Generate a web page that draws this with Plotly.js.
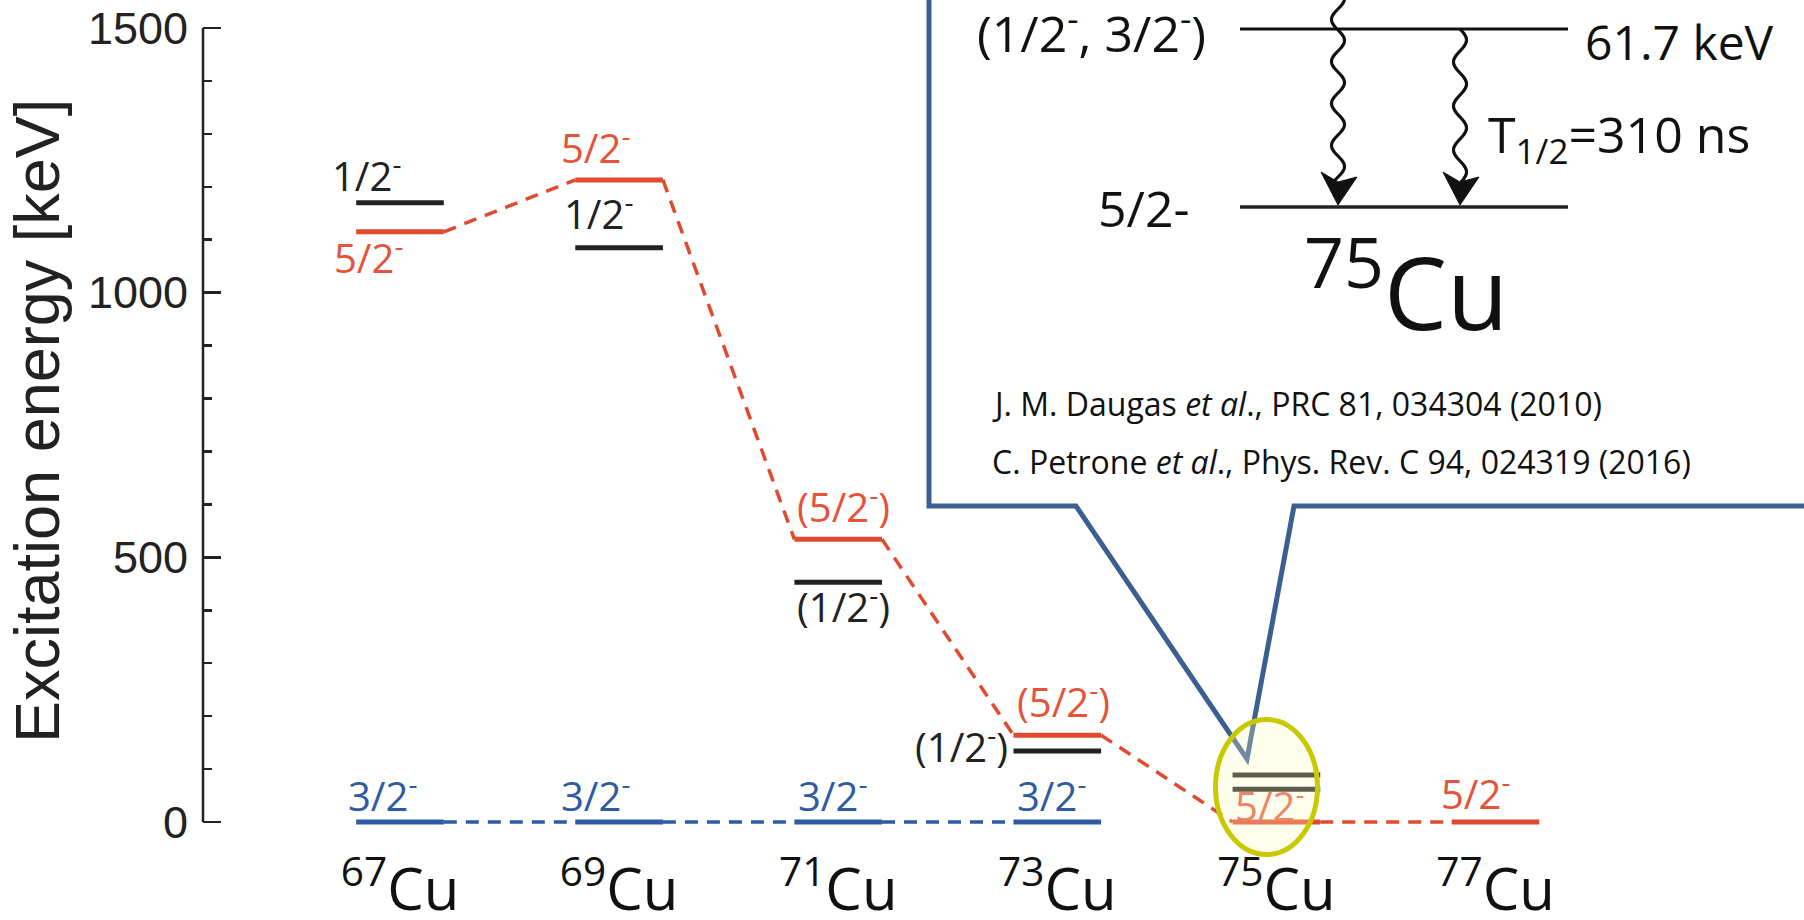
<!DOCTYPE html>
<html>
<head>
<meta charset="utf-8">
<script src="https://cdn.plot.ly/plotly-3.0.1.min.js"></script>
<style>
  html, body { margin: 0; padding: 0; background: #fff; }
  #chart { width: 1804px; height: 920px; }
</style>
</head>
<body>
<div id="chart"></div>
<script>
// ---- data: Cu isotope low-lying levels (keV) ----
const massNumbers = ['67', '69', '71', '73', '75', '77'];
const level52 = [1115, 1213, 534, 164, 0, 0];            // 5/2- (red)
const level12 = [1170, 1085, 453, 134, 89, null];        // 1/2- (black)
const level75low = [null, null, null, null, 61.7, null]; // lower member of the 75Cu doublet, black
const level32 = [0, 0, 0, 0, null, null];                // 3/2- (blue)
const spin52 = ['5/2-', '5/2-', '(5/2-)', '(5/2-)', '5/2-', '5/2-'];
const spin12 = ['1/2-', '1/2-', '(1/2-)', '(1/2-)', null, null];
const spin32 = ['3/2-', '3/2-', '3/2-', '3/2-', null, null];
const yTicks = [0, 500, 1000, 1500];

// ---- label placement (pixel offsets from level centre: [dx, baseline above line]) ----
const off52 = [[-68, -42], [-60, 16], [-43, 16], [-42, 17], [-43, 0], [-57, 12]];
const off12 = [[-70, 10], [-57, 17], [-43, -41], [-47, -12], null, null];
const off32 = [[-54, 10], [-60, 10], [-42, 10], [-42, 10], null, null];

// ---- colours ----
const RED = '#e24a2f', RED_TXT = '#e4533a', BLUE = '#2f5ba3', BLACK = '#222222';
const CALLOUT = '#3c5f91';

// ---- geometry ----
const W = 1804, H = 920;
const M = { l: 203, r: 0, t: 12, b: 70 };
const plotW = W - M.l - M.r, plotH = H - M.t - M.b;
const xCentre0 = 400, xStep = 219.1;   // pixel column of first isotope, spacing
const yZero = 822, yTop = 28;          // pixel rows of 0 and 1500 keV
const k = (yZero - yTop) / 1500;
const xRange = [(M.l - xCentre0) / xStep, (W - M.r - xCentre0) / xStep];
const yRange = [-(H - M.b - yZero) / k, (yZero - M.t) / k];
const HALF = 0.2;                      // half width of a level bar (x units)

const px = p => (p - M.l) / plotW;
const py = p => (H - M.b - p) / plotH;

function bars(vals) {
  const x = [], y = [];
  vals.forEach((v, i) => { if (v !== null) { x.push(i - HALF, i + HALF, null); y.push(v, v, null); } });
  return { x, y };
}
function links(vals) {
  const x = [], y = [];
  for (let i = 0; i < vals.length - 1; i++) {
    if (vals[i] !== null && vals[i + 1] !== null) {
      x.push(i + HALF, i + 1 - HALF, null); y.push(vals[i], vals[i + 1], null);
    }
  }
  return { x, y };
}
const fmt = s => s.replace('-', '<sup>-</sup>');

const dash = { width: 3.5, dash: '13px,9px' };
const traces = [
  Object.assign({ type: 'scatter', mode: 'lines', line: Object.assign({ color: BLUE }, dash), hoverinfo: 'skip' }, links(level32)),
  Object.assign({ type: 'scatter', mode: 'lines', line: Object.assign({ color: RED }, dash), hoverinfo: 'skip' }, links(level52)),
  Object.assign({ type: 'scatter', mode: 'lines', line: { color: BLUE, width: 5 }, hoverinfo: 'skip' }, bars(level32)),
  Object.assign({ type: 'scatter', mode: 'lines', line: { color: BLACK, width: 5 }, hoverinfo: 'skip' }, bars(level12)),
  Object.assign({ type: 'scatter', mode: 'lines', line: { color: BLACK, width: 5 }, hoverinfo: 'skip' }, bars(level75low)),
  Object.assign({ type: 'scatter', mode: 'lines', line: { color: RED, width: 5 }, hoverinfo: 'skip' }, bars(level52))
];

// ---- spin labels ----
const SPIN_FONT = 40, DESC = 0.293 * SPIN_FONT + 1;
const annotations = [];
function spinLabels(vals, texts, offs, color) {
  vals.forEach((v, i) => {
    if (v === null || !texts[i] || !offs[i]) return;
    const [dx, dy] = offs[i];
    const rightSide = (texts === spin12 && i === 3);
    annotations.push({
      x: i, y: v, xref: 'x', yref: 'y', text: fmt(texts[i]), showarrow: false,
      xanchor: rightSide ? 'right' : 'left', yanchor: 'bottom',
      xshift: dx, yshift: dy - DESC,
      font: { family: 'Open Sans', size: SPIN_FONT, color: (texts === spin52 && i === 4) ? '#ec8467' : color }
    });
  });
}
spinLabels(level52, spin52, off52, RED_TXT);
spinLabels(level12, spin12, off12, BLACK);
spinLabels(level32, spin32, off32, BLUE);

// ---- axis title ----
annotations.push({
  x: px(37), y: py(421), xref: 'paper', yref: 'paper', text: 'Excitation energy [keV]',
  textangle: -90, showarrow: false, xanchor: 'center', yanchor: 'middle',
  font: { family: 'Liberation Sans, Arial, sans-serif', size: 63, color: BLACK }
});

// ---- inset: 75Cu isomer scheme ----
const inset = (x, y, text, size, xa, ya, extra) => Object.assign({
  x: px(x), y: py(y), xref: 'paper', yref: 'paper', text, showarrow: false,
  xanchor: xa, yanchor: ya, font: { family: 'Open Sans', size, color: '#111' }
}, extra || {});
annotations.push(inset(1208, 31, '(1/2<sup>-</sup>, 3/2<sup>-</sup>)', 50, 'right', 'middle'));
annotations.push(inset(1583, 42, '61.7 keV', 48, 'left', 'middle'));
annotations.push(inset(1192, 208, '5/2-', 50, 'right', 'middle'));
annotations.push(inset(1486, 137, 'T<sub>1/2</sub>=310 ns', 50, 'left', 'middle'));
annotations.push(inset(1302, 286, '<sup>75</sup>Cu', 100, 'left', 'middle'));
annotations.push(inset(990, 403, 'J. M. Daugas <i>et al</i>., PRC 81, 034304 (2010)', 32, 'left', 'middle'));
annotations.push(inset(990, 462, 'C. Petrone <i>et al</i>., Phys. Rev. C 94, 024319 (2016)', 32, 'left', 'middle'));

// wavy gamma arrows
function wave(cx, y0, y1, amp, period) {
  let d = `M ${px(cx)},${py(y0)}`;
  for (let y = y0 + 1; y <= y1; y += 1) {
    d += ` L ${px(cx + amp * Math.sin(2 * Math.PI * (y - y0) / period))},${py(y)}`;
  }
  return d;
}
function head(cx, tip) {
  return `M ${px(cx)},${py(tip)} L ${px(cx - 17)},${py(tip - 33)} L ${px(cx)},${py(tip - 23)} L ${px(cx + 19)},${py(tip - 28)} Z`;
}

const shapes = [
  // callout box with pointer
  { type: 'path', xref: 'paper', yref: 'paper', layer: 'above', fillcolor: '#ffffff',
    line: { color: CALLOUT, width: 5 },
    path: `M ${px(929)},${py(-20)} L ${px(929)},${py(506)} L ${px(1076)},${py(506)} L ${px(1247)},${py(759)} L ${px(1294)},${py(506)} L ${px(1808)},${py(506)} L ${px(1808)},${py(-20)} Z` },
  // inset levels
  { type: 'line', xref: 'paper', yref: 'paper', layer: 'above', x0: px(1240), x1: px(1568), y0: py(29), y1: py(29), line: { color: '#111', width: 3 } },
  { type: 'line', xref: 'paper', yref: 'paper', layer: 'above', x0: px(1240), x1: px(1568), y0: py(207), y1: py(207), line: { color: '#222', width: 3.5 } },
  { type: 'path', xref: 'paper', yref: 'paper', layer: 'above', path: wave(1338, -12, 182, 6.5, 42), line: { color: '#111', width: 3.2 } },
  { type: 'path', xref: 'paper', yref: 'paper', layer: 'above', path: wave(1460, 29, 182, 6.5, 44), line: { color: '#111', width: 3.2 } },
  { type: 'path', xref: 'paper', yref: 'paper', layer: 'above', path: head(1338, 205), fillcolor: '#111', line: { color: '#111', width: 1 } },
  { type: 'path', xref: 'paper', yref: 'paper', layer: 'above', path: head(1460, 205), fillcolor: '#111', line: { color: '#111', width: 1 } },
  // y axis spine from 0 to 1500 keV
  { type: 'line', xref: 'paper', yref: 'y', layer: 'above', x0: 0, x1: 0, y0: yTicks[0], y1: yTicks[yTicks.length - 1], line: { color: BLACK, width: 2.5 } },
  // highlight around 75Cu
  { type: 'circle', xref: 'paper', yref: 'paper', layer: 'above',
    x0: px(1215.5), x1: px(1317.5), y0: py(854.5), y1: py(719.5),
    fillcolor: 'rgba(250,250,190,0.28)', line: { color: '#c9c900', width: 5 } }
];

const layout = {
  width: W, height: H, margin: M, showlegend: false,
  paper_bgcolor: '#ffffff', plot_bgcolor: '#ffffff',
  xaxis: {
    range: xRange, showgrid: false, zeroline: false, showline: false, ticks: '',
    tickvals: massNumbers.map((_, i) => i),
    ticktext: massNumbers.map(a => `<sup>${a}</sup>Cu`),
    tickfont: { family: 'Open Sans', size: 58, color: '#111' },
    ticklabelstandoff: 1
  },
  yaxis: {
    range: yRange, showgrid: false, zeroline: false, showline: false,
    tickvals: yTicks, ticktext: yTicks.map(String),
    ticks: 'inside', ticklen: 18, tickwidth: 2.5, tickcolor: BLACK,
    minor: { dtick: 100, tick0: 0, ticks: 'inside', ticklen: 9, tickwidth: 2.5, tickcolor: BLACK, showgrid: false },
    tickfont: { family: 'Liberation Sans, Arial, sans-serif', size: 45, color: BLACK },
    ticklabelstandoff: 14
  },
  shapes, annotations
};

Plotly.newPlot('chart', traces, layout, { displayModeBar: false, staticPlot: true });
</script>
</body>
</html>
